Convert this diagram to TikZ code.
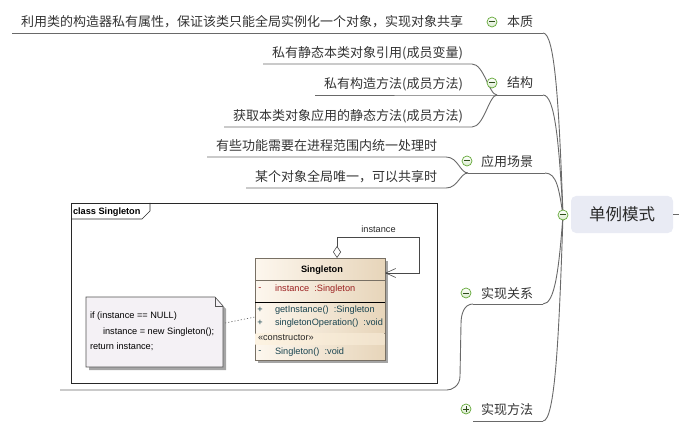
\documentclass[tikz,border=0pt]{standalone}
\usepackage{fontspec}
\setmainfont{Liberation Sans}
\newfontfamily\cjkfont{Noto Sans CJK SC}
\usetikzlibrary{positioning,arrows.meta,calc,shadows}
\definecolor{mmtext}{RGB}{51,51,51}
\definecolor{mmline}{RGB}{105,105,105}
\definecolor{mmroot}{RGB}{233,235,244}
\definecolor{mmgreen}{RGB}{100,168,56}
\definecolor{umlink}{RGB}{40,40,40}
\definecolor{umlborder}{RGB}{120,112,100}
\definecolor{umlred}{RGB}{155,32,32}
\definecolor{umlteal}{RGB}{25,68,80}
\definecolor{clsleft}{RGB}{253,247,238}
\definecolor{clsright}{RGB}{231,213,186}
\definecolor{clsband}{RGB}{253,243,226}
\definecolor{notefill}{RGB}{244,241,245}
\definecolor{umlshadow}{RGB}{165,165,165}

\tikzset{
  mmlink/.style={draw=mmline, line width=0.9pt},
  leaf/.style={font=\cjkfont\fontsize{13}{16}\selectfont, text=mmtext,
    inner xsep=9pt, inner ysep=0pt, outer sep=0pt},
  branch/.style={leaf, inner xsep=0pt},
  rootbox/.style={rounded corners=5pt, fill=mmroot, minimum width=102pt,
    minimum height=37pt, font=\cjkfont\fontsize{16.5}{19}\selectfont,
    text=mmtext!85!black, outer sep=0pt},
  foldsign/.style={draw=mmgreen!45!black, line width=1pt},
  foldbase/.style={circle, draw=mmgreen, line width=0.7pt, inner sep=0pt,
    minimum size=10pt, top color=white, bottom color=mmgreen!25},
  foldmin/.style={foldbase, path picture={\draw[foldsign]
    ([xshift=-2.8pt]path picture bounding box.center) --
    ([xshift=2.8pt]path picture bounding box.center);}},
  foldplus/.style={foldbase, path picture={\draw[foldsign]
    ([xshift=-2.8pt]path picture bounding box.center) --
    ([xshift=2.8pt]path picture bounding box.center)
    ([yshift=-2.8pt]path picture bounding box.center) --
    ([yshift=2.8pt]path picture bounding box.center);}},
  umltxt/.style={font=\fontsize{9.2}{11}\selectfont, inner sep=0pt, outer sep=0pt},
  umlbold/.style={umltxt, font=\fontsize{9.2}{11}\selectfont\bfseries},
  umledge/.style={draw=umlink, line width=0.7pt},
  clsbox/.style={draw=umlborder, line width=0.6pt, left color=clsleft,
    right color=clsright, minimum width=130pt, minimum height=102pt,
    inner sep=0pt, outer sep=0pt,
    drop shadow={shadow xshift=3pt, shadow yshift=-3pt, fill=umlshadow, opacity=1}},
  notebox/.style={minimum width=137pt, minimum height=70pt, inner sep=0pt, outer sep=0pt},
  notelink/.style={draw=umlink!70, line width=0.6pt, dash pattern=on 1.2pt off 2pt},
  assoc/.style={draw=umlink!85, line width=0.6pt,
    {Diamond[open, fill=white, length=12pt, width=8pt]}-{Straight Barb[length=10pt, width=9pt]}},
}

\begin{document}
\begin{tikzpicture}[x=1pt, y=-1pt]
\useasboundingbox (0,0) rectangle (679,430);

% ================= mind map skeleton =================
\coordinate (rootjoint) at (563,215);
\coordinate (rbz) at (543,33);
\coordinate (ljg) at (497,95);  \coordinate (rjg) at (543,95);
\coordinate (lyy) at (468,173); \coordinate (ryy) at (545,173);
\coordinate (lgx) at (473,304); \coordinate (rgx) at (543,304);
\coordinate (lff) at (473,421); \coordinate (rff) at (543,421);

% trunk: one curve per branch, all meeting at the root toggle
\foreach \b/\y in {bz/33, jg/95, yy/173, gx/304, ff/421}
  \draw[mmlink] (r\b) .. controls +(12,0) and (559,{\y+0.4*(215-\y)}) .. (rootjoint);
\foreach \b in {jg, yy, gx, ff}
  \draw[mmlink] (l\b) -- (r\b);

% ================= leaves =================
\node[leaf, anchor=base east] (bzleaf) at (472,27)
  {利用类的构造器私有属性，保证该类只能全局实例化一个对象，实现对象共享};
\draw[mmlink] ([yshift=-6pt]bzleaf.base west) -- (rbz);

\node[leaf, anchor=base east] (jgleafa) at (472,58)  {私有静态本类对象引用(成员变量)};
\node[leaf, anchor=base east] (jgleafb) at (472,89)  {私有构造方法(成员方法)};
\node[leaf, anchor=base east] (jgleafc) at (472,121) {获取本类对象应用的静态方法(成员方法)};
\node[leaf, anchor=base east] (yyleafa) at (446,151) {有些功能需要在进程范围内统一处理时};
\node[leaf, anchor=base east] (yyleafb) at (446,182) {某个对象全局唯一，可以共享时};

\foreach \c/\j in {jgleafa/ljg, jgleafb/ljg, jgleafc/ljg, yyleafa/lyy, yyleafb/lyy}
  \draw[mmlink] ([yshift=-6pt]\c.base west) -- ([yshift=-6pt]\c.base east)
    .. controls +(12,0) and +(-8,0) .. (\j);

% image topic: underline runs below the class diagram
\coordinate (umlfootr) at (447,390);
\coordinate (umlfootl) at (60,390);
\draw[mmlink] (lgx) .. controls +(-9,0) and +(0,-10) .. ++(-12,20) -- ++(-1,52)
  .. controls +(0,10) and +(5,0) .. (umlfootr) -- (umlfootl);

% ================= branch labels =================
\node[branch, anchor=base east] (bzlbl) at (533,27)  {本质};
\node[branch, anchor=base east] (jglbl) at (533,88)  {结构};
\node[branch, anchor=base east] (yylbl) at (533,167) {应用场景};
\node[branch, anchor=base east] (gxlbl) at (533,298) {实现关系};
\node[branch, anchor=base east] (fflbl) at (533,414) {实现方法};

\node[foldmin]  (bzfold) at (492,22)  {};
\node[foldmin]  (jgfold) at (492,83)  {};
\node[foldmin]  (yyfold) at (467,161) {};
\node[foldmin]  (gxfold) at (466,293) {};
\node[foldplus] (fffold) at (466,409) {};

% ================= root =================
\node[rootbox] (root) at (622,214.5) {单例模式};
\coordinate (rootstub) at (679,214.5);
\draw[mmlink] (root.east) -- (rootstub);
\node[foldmin] (rootfold) at (rootjoint) {};

% ================= class diagram =================
\node[draw=umlink, line width=0.7pt, minimum width=366pt, minimum height=180pt,
      inner sep=0pt, outer sep=0pt] (umlframe) at (254,293) {};
\draw[umledge] ([yshift=-16pt]umlframe.north west) -- ++(71,0) -- ++(8,-8) -- ++(0,-8);
\node[umlbold, anchor=west] (frametitle) at ($(umlframe.north west)+(2,9.5)$) {class Singleton};

% class box
\node[clsbox] (cls) at (320,309) {};
\fill[left color=clsband, right color=clsright!55!clsband]
  ($(cls.north west)+(0.4,75)$) rectangle ($(cls.north east)+(-0.4,86)$);
\draw[draw=umlborder, line width=0.6pt] ($(cls.north west)+(0,22)$) -- ($(cls.north east)+(0,22)$);
\draw[draw=black, line width=0.9pt] ($(cls.north west)+(0,44)$) -- ($(cls.north east)+(0,44)$);
\node[umlbold] (clsname) at ($(cls.north)+(2,12)$) {Singleton};
\foreach \dy/\sg/\txt/\col [count=\i] in {
    31/-/{instance\ \ :Singleton}/umlred,
    52/+/{getInstance()\ \ :Singleton}/umlteal,
    65/+/{singletonOperation()\ \ :void}/umlteal,
    94/-/{Singleton()\ \ :void}/umlteal} {
  \node[umltxt, text=\col] (sg\i) at ($(cls.north west)+(5,\dy)$) {\sg};
  \node[umltxt, text=\col, anchor=west] (mb\i) at ($(cls.north west)+(20,\dy)$) {\txt};
}
\node[umltxt, text=umlink, anchor=west] (ctor) at ($(cls.north west)+(3,80)$) {«constructor»};

% self association
\node[umltxt, text=umlink] (assoclbl) at (378.5,229) {instance};
\draw[assoc] ($(cls.north)+(17,0)$) |- ($(cls.north east)+(34,-21)$)
  |- ($(cls.north east)+(0,15)$);

% note
\node[notebox] (note) at (154.5,332) {};
\fill[umlshadow] ($(note.north west)+(3,3)$) -- ($(note.north east)+(-5,3)$)
  -- ($(note.north east)+(3,12)$) -- ($(note.south east)+(3,3)$)
  -- ($(note.south west)+(3,3)$) -- cycle;
\draw[fill=notefill, draw=umlink!80, line width=0.6pt] (note.north west)
  -- ($(note.north east)+(-8,0)$) -- ($(note.north east)+(0,9)$)
  -- (note.south east) -- (note.south west) -- cycle;
\draw[draw=umlink!80, line width=0.6pt] ($(note.north east)+(-8,0)$) |- ($(note.north east)+(0,9)$);
\node[umltxt, anchor=west] (notea) at ($(note.north west)+(4,19)$)  {if (instance == NULL)};
\node[umltxt, anchor=west] (noteb) at ($(note.north west)+(17,35)$) {instance = new Singleton();};
\node[umltxt, anchor=west] (notec) at ($(note.north west)+(4,50)$)  {return instance;};
\draw[notelink] ($(note.north east)+(2,26)$) -- ($(cls.west)+(0,8)$);
\end{tikzpicture}
\end{document}
